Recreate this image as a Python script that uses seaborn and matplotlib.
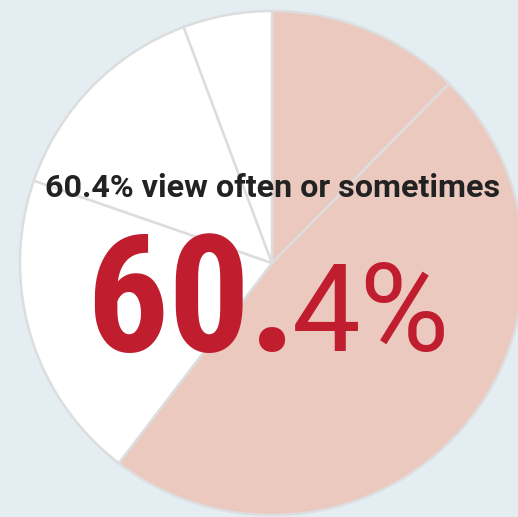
"""Share of respondents who view often or sometimes, drawn as a pie."""

import matplotlib.pyplot as plt
import seaborn as sns

# slices clockwise from 12 o'clock
labels = ["Often", "Sometimes", "Rarely", "Hardly ever", "Never"]
shares = [12.4, 48.0, 19.9, 14.0, 5.7]
colors = ["#ecc9bf", "#ecc9bf", "#ffffff", "#ffffff", "#ffffff"]

headline = "60.4% view often or sometimes"
big_int = "60"
big_dec = "4%"

BG = "#e4eef2"
RED = "#c01d2f"


def main():
    sns.set_theme(style="white")
    plt.rcParams["font.family"] = ["Roboto Condensed", "Roboto", "DejaVu Sans"]

    W, H = 518, 517
    fig = plt.figure(figsize=(W / 100, H / 100), dpi=100, facecolor=BG)
    ax = fig.add_axes([0, 0, 1, 1])
    ax.set_facecolor(BG)

    cx, cy, r = 272, H - 263, 252
    ax.pie(
        shares,
        colors=colors,
        startangle=90,
        counterclock=False,
        center=(cx, cy),
        radius=r,
        wedgeprops=dict(edgecolor="#dddddd", linewidth=1.8),
        frame=True,
    )
    ax.set_xlim(0, W)
    ax.set_ylim(0, H)
    ax.set_aspect("equal")
    ax.axis("off")

    ax.text(273, H - 197, headline, ha="center", va="baseline",
            fontsize=23.2, fontweight="bold", color="#222222",
            family=["Roboto", "DejaVu Sans"])

    base = H - 351
    ax.text(250, base, big_int, ha="right", va="baseline",
            fontsize=117, fontweight="bold", color=RED)
    ax.text(273, base, ".", ha="center", va="baseline",
            fontsize=117, fontweight="bold", color=RED)
    ax.text(292, base, big_dec, ha="left", va="baseline",
            fontsize=88, fontweight="normal", color=RED,
            family=["Roboto", "DejaVu Sans"])

    fig.savefig("out.png", dpi=100, facecolor=BG)


if __name__ == "__main__":
    main()
